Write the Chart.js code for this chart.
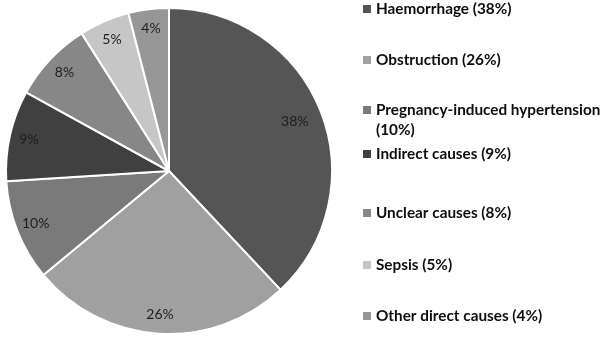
<!DOCTYPE html>
<html>
<head>
<meta charset="utf-8">
<script src="https://cdn.jsdelivr.net/npm/chart.js@4.4.0/dist/chart.umd.min.js"></script>
<style>
  html, body { margin: 0; padding: 0; background: #fff; }
  #wrap { position: relative; width: 600px; height: 342px; }
</style>
</head>
<body>
<div id="wrap"><canvas id="pie" width="600" height="342"></canvas></div>
<script>
// causes of maternal death
const causes = ['Haemorrhage', 'Obstruction', 'Pregnancy-induced hypertension', 'Indirect causes', 'Unclear causes', 'Sepsis', 'Other direct causes'];
const shares = [38, 26, 10, 9, 8, 5, 4];
const greys = ['#555555', '#a0a0a0', '#7a7a7a', '#404040', '#878787', '#c6c6c6', '#979797'];

// legend row layout (top of each row, wrapped lines)
const legendRows = [9, 60, 110, 154, 213, 265, 316];

const sliceLabels = {
  id: 'sliceLabels',
  afterDatasetsDraw(chart) {
    const ctx = chart.ctx;
    const meta = chart.getDatasetMeta(0);
    ctx.save();
    ctx.font = '14px Lato';
    ctx.fillStyle = '#1e1e1e';
    ctx.textAlign = 'center';
    ctx.textBaseline = 'middle';
    meta.data.forEach((arc, i) => {
      const p = arc.getProps(['x', 'y', 'startAngle', 'endAngle', 'outerRadius'], true);
      const mid = (p.startAngle + p.endAngle) / 2;
      const r = p.outerRadius * (i === 0 ? 0.83 : 0.88);
      ctx.fillText(shares[i] + '%', p.x + Math.cos(mid) * r, p.y + Math.sin(mid) * r);
    });
    ctx.restore();
  }
};

const sideLegend = {
  id: 'sideLegend',
  afterDraw(chart) {
    const ctx = chart.ctx;
    ctx.save();
    ctx.font = 'bold 15.3px Lato';
    ctx.textBaseline = 'middle';
    causes.forEach((name, i) => {
      const y = legendRows[i];
      ctx.fillStyle = greys[i];
      ctx.fillRect(363, y - 4, 8, 8);
      ctx.fillStyle = '#0d0d0d';
      const text = name + ' (' + shares[i] + '%)';
      if (ctx.measureText(text).width > 224) {
        ctx.fillText(name, 376, y);
        ctx.fillText('(' + shares[i] + '%)', 376, y + 20);
      } else {
        ctx.fillText(text, 376, y);
      }
    });
    ctx.restore();
  }
};

new Chart(document.getElementById('pie'), {
  type: 'pie',
  data: {
    labels: causes,
    datasets: [{
      data: shares,
      backgroundColor: greys,
      borderColor: '#ffffff',
      borderWidth: 2
    }]
  },
  options: {
    responsive: false,
    animation: false,
    layout: { padding: { left: 5, right: 267, top: 7, bottom: 7 } },
    plugins: {
      legend: { display: false },
      tooltip: { enabled: false }
    }
  },
  plugins: [sliceLabels, sideLegend]
});
</script>
</body>
</html>
